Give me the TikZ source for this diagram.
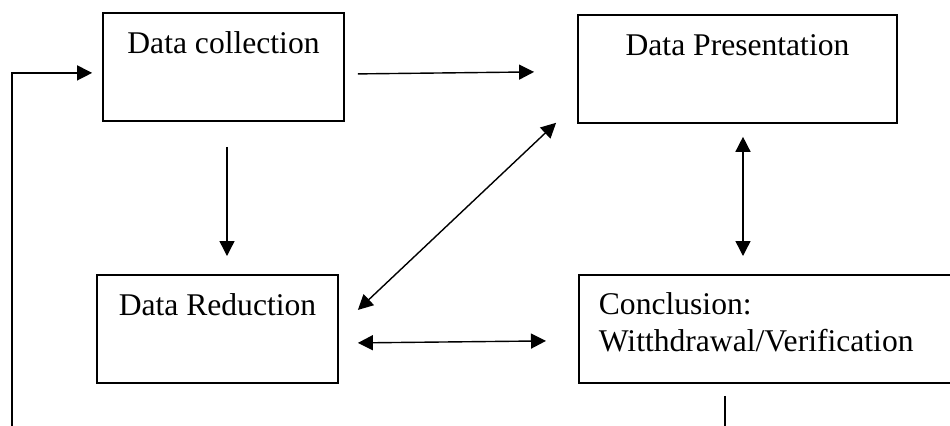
\documentclass[tikz,border=0pt]{standalone}
\usepackage{fontspec}
\setmainfont{Liberation Serif}
\usetikzlibrary{arrows.meta}
\begin{document}
\begin{tikzpicture}[x=0.5pt,y=-0.5pt,
  box/.style={draw,line width=0.9pt,inner sep=0pt,text height=20.5pt,text depth=33.5pt,
    font=\fontsize{15.8}{18.25}\selectfont},
  arr/.style={line width=0.7pt,-{Triangle[length=7.5pt,width=7.5pt]}},
  darr/.style={line width=0.7pt,{Triangle[length=7.5pt,width=7.5pt]}-{Triangle[length=7.5pt,width=7.5pt]}},
  plain/.style={line width=0.7pt}]
\useasboundingbox (0,0) rectangle (950,425);
\clip (0,0) rectangle (950,425);
\node[box,anchor=north west,text height=19.85pt,text depth=34.15pt,minimum width=250pt] (cc) at (578,274)
  {\hbox to 250pt{\hspace{10pt}\begin{tabular}[t]{@{}l@{}}Conclusion:\\Witthdrawal/Verification\end{tabular}\hfil}};
\node[box,anchor=north,minimum width=120.5pt] (dc) at (223.5,12) {Data collection};
\node[box,anchor=north,minimum width=159.5pt] (dp) at (737.5,14) {Data Presentation};
\node[box,anchor=north,minimum width=120.5pt] (dr) at (217.5,274) {Data Reduction};
\coordinate (fb) at (12,440);
\coordinate (cb) at (725,440);
\draw[arr] ([shift={(13,7)}]dc.east) -- ([shift={(-43,3)}]dp.west);
\draw[arr] ([shift={(3.5,25)}]dc.south) -- ([shift={(9.5,-18)}]dr.north);
\draw[darr] ([shift={(-21,-1)}]dp.south west) -- ([shift={(19,-19)}]dr.east);
\draw[darr] ([shift={(19,14)}]dr.east) -- ([shift={(-32,12)}]cc.west);
\draw[darr] ([shift={(5.5,13)}]dp.south) -- ([shift={(165,-18)}]cc.north west);
\draw[arr] (fb) |- ([shift={(-10,6)}]dc.west);
\draw[plain] ([shift={(147,12)}]cc.south west) -- (cb);
\end{tikzpicture}
\end{document}
